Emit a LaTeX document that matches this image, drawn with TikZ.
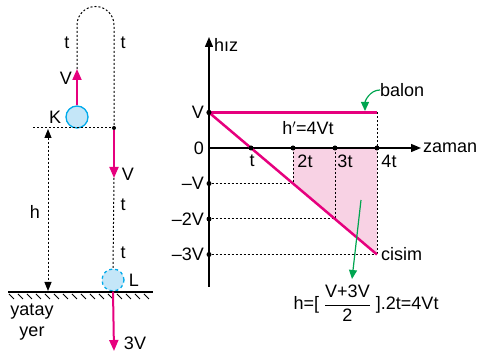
\documentclass[tikz,border=0pt]{standalone}
\usepackage{fontspec}
\setmainfont{Liberation Sans}
\usepackage{amsmath}
\usetikzlibrary{arrows.meta, positioning, calc}

\definecolor{velred}{RGB}{230,0,126}
\definecolor{shadepink}{RGB}{248,210,228}
\definecolor{ballblue}{RGB}{196,230,248}
\definecolor{ballcyan}{RGB}{0,170,235}
\definecolor{notegreen}{RGB}{0,165,80}

\begin{document}
\begin{tikzpicture}[x=1pt, y=-1pt,
  lbl/.style={font=\fontsize{18}{21}\selectfont, inner sep=0pt},
  ball/.style={circle, minimum size=22pt, inner sep=0pt, fill=ballblue, draw=ballcyan, line width=1.3pt},
  vel/.style={draw=velred, line width=2pt, -{Triangle[length=11pt, width=9pt]}},
  graph/.style={draw=velred, line width=2.5pt},
  guide/.style={dash pattern=on 2pt off 2pt, line width=1pt},
  axis/.style={line width=1.3pt, -{Triangle[length=10pt, width=8pt]}},
  dot/.style={circle, fill=black, inner sep=0pt, minimum size=5pt},
  note/.style={draw=notegreen, line width=1.2pt, -{Triangle[length=9pt, width=8pt]}}
]
\useasboundingbox (0,0) rectangle (480,352);

% left: balloon K, object L and the ground
\node[ball] (K) at (77,117) {};
\node[lbl, left=4pt of K] (Klbl) {K};
\coordinate (Kup) at (77,69);
\node[dot, minimum size=4pt] (drop) at (114,128) {};
\coordinate (hTop) at (48,129);
\coordinate (hBot) at (48,291);
\coordinate (Vdown) at (114,178);
\node[ball, dashed] (L) at (113,280) {};
\node[lbl, right=4pt of L] (Llbl) {L};
\coordinate (Ldown) at (114,351);
\coordinate (gL) at (8,292);
\coordinate (gR) at (153,292);

\draw[guide] (Kup) -- (77,25) arc[start angle=180, end angle=360, radius=18.5] -- (drop);
\draw[guide] (33,128) -- (drop);
\draw[guide] (Vdown) -- (L.north);
\draw[guide, {Triangle[length=9pt, width=7pt]}-{Triangle[length=9pt, width=7pt]}] (hTop) -- (hBot);
\draw[vel] (K.north) -- (Kup);
\draw[vel] (drop) -- (Vdown);
\draw[line width=1.3pt] (gL) -- (gR);
\foreach \x in {9,18,...,150}
  \draw[line width=1pt] (\x,294) -- ++(5,5);
\draw[vel] (L.south) -- (Ldown);

\node[lbl] (vK) at (66,78) {V};
\node[lbl] (tK) at (67,43) {t};
\node[lbl] (tB) at (123,43) {t};
\node[lbl] (vB) at (128,174) {V};
\node[lbl] (t1) at (123,205) {t};
\node[lbl] (t2) at (123,253) {t};
\node[lbl] (hlbl) at (35,212) {h};
\node[lbl] (v3) at (135,343) {3V};
\node[lbl, align=center] (yer) at (32,322) {yatay\\yer};

% right: speed-time graph
\coordinate (O) at (209,148);
\coordinate (yTop) at (209,37);
\coordinate (xEnd) at (421,148);
\node[dot] (vV) at (209,112.5) {};
\node[dot] (vm1) at (209,183.5) {};
\node[dot] (vm2) at (209,219) {};
\node[dot] (vm3) at (209,254.5) {};
\coordinate (b4) at (377,112.5);
\coordinate (c2) at (293,183.5);
\coordinate (c3) at (335,219);
\coordinate (c4) at (377,254.5);

\fill[shadepink] (293,148) -- (377,148) -- (c4) -- (c2) -- cycle;
\draw[guide] (vm1) -- (c2);
\draw[guide] (vm2) -- (c3);
\draw[guide] (vm3) -- (c4);
\draw[guide] (293,148) -- (c2);
\draw[guide] (335,148) -- (c3);
\draw[guide] (b4) -- (c4);
\draw[axis] (209,287) -- (yTop);
\draw[axis] (O) -- (xEnd);
\draw[graph] (vV.center) -- (b4);
\draw[graph] (vV.center) -- (c4);

\node[dot] (tt1) at (251,148) {};
\node[dot] (tt2) at (293,148) {};
\node[dot] (tt3) at (335,148) {};
\node[dot] (tt4) at (377,148) {};
\node[dot] at (vV) {};

\node[lbl, anchor=west] (hiz) at (214,45) {hız};
\node[lbl, anchor=west] (zaman) at (423,148) {zaman};
\node[lbl, anchor=east] (lV) at (204,112.5) {V};
\node[lbl, anchor=east] (l0) at (204,148) {0};
\node[lbl, anchor=east] (lm1) at (204,183.5) {--V};
\node[lbl, anchor=east] (lm2) at (204,219) {--2V};
\node[lbl, anchor=east] (lm3) at (204,254.5) {--3V};
\node[lbl] (lt1) at (252,161) {t};
\node[lbl] (lt2) at (305,161) {2t};
\node[lbl] (lt3) at (345,161) {3t};
\node[lbl] (lt4) at (389,161) {4t};
\node[lbl] (hprime) at (308,128) {h$'$=4Vt};
\node[lbl, anchor=west] (balon) at (380,90) {balon};
\node[lbl, anchor=west] (cisim) at (381,254) {cisim};
\node[lbl] (frm) at (366,303) {h=[ $\dfrac{\text{V+3V}}{\text{2}}$ ].2t=4Vt};

\coordinate (area) at (361,200);
\coordinate (areaTip) at (352,279);
\coordinate (balonTip) at (365,111);
\draw[note] (area) -- (areaTip);
\draw[note] (balon.west) to[out=180, in=90] (balonTip);
\end{tikzpicture}
\end{document}
